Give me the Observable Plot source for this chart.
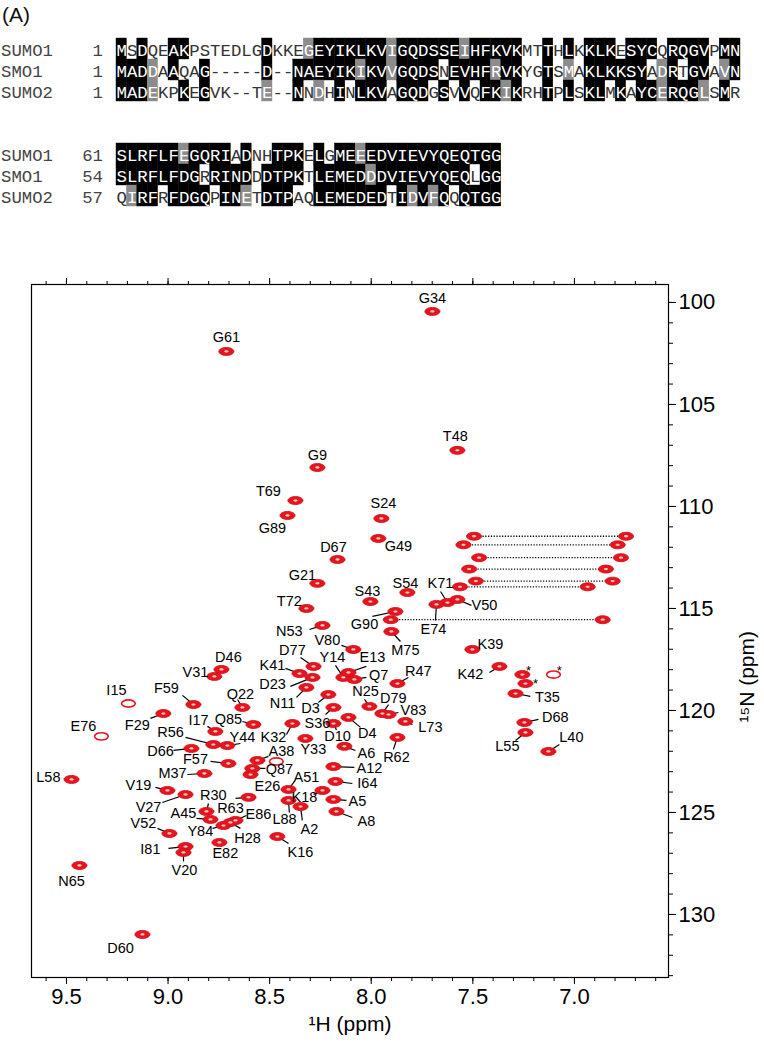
<!DOCTYPE html>
<html><head><meta charset="utf-8">
<script src="https://cdn.jsdelivr.net/npm/d3@7"></script>
<script src="https://cdn.jsdelivr.net/npm/@observablehq/plot@0.6"></script>
<style>
body{margin:0;background:#fff;}
#wrap{position:relative;width:764px;height:1046px;font-family:"Liberation Sans",Arial,sans-serif;}
.tag{position:absolute;left:2px;font-size:21px;line-height:24px;color:#111;}
#pa{position:absolute;left:0;top:0;}
#pb{position:absolute;left:0;top:215px;}
</style></head>
<body><div id="wrap"><div class="tag" style="top:3px">(A)</div><div class="tag" style="top:228px">(B)</div><div id="pa"></div><div id="pb"></div></div>
<script>
// ---------- Panel A: alignment data ----------
const seqNames = ["SUMO1", "SMO1", "SUMO2"];
const block1Start = [1, 1, 1];
const block2Start = [61, 54, 57];
const block1Seq = [
  "MSDQEAKPSTEDLGDKKEGEYIKLKVIGQDSSEIHFKVKMTTHLKKLKESYCQRQGVPMN",
  "MADDAAQAG-----D--NAEYIKIKVVGQDSNEVHFRVKYGTSMAKLKKSYADRTGVAVN",
  "MADEKPKEGVK--TE--NNDHINLKVAGQDGSVVQFKIKRHTPLSKLMKAYCERQGLSMR"
];
const block1Shade = [
  "bwbwwbbwwwwwwwbwwwgbbbbbbbgbbbbbbgbbbbbwwbwbwbbbwbbbwbbbbwbb",
  "bbbgwbwwbwwwwwbwwbbbbbbgbbgbbbbwbbbbgbbwwbwgwbbbbbbwgbwbbwgb",
  "bbbgwwbwbwwwwwgwwbwgwbwbbbwbbbwbwbwbbgbwwbwbwbbwbwbbgbbbgwbw"
];
const block2Seq = [
  "SLRFLFEGQRIADNHTPKELGMEEEDVIEVYQEQTGG",
  "SLRFLFDGRRINDDDTPKTLEMEDDDVIEVYQEQLGG",
  "QIRFRFDGQPINETDTPAQLEMEDEDTIDVFQQQTGG"
];
const block2Shade = [
  "bbbbbbgbbbbwbwwbbbwbwbbgbbbbbbbbbbbbb",
  "bbbbbbbbwbbbbwbbbbwbbbbbgbbbbbbbbbwbb",
  "wgbbwbbbbwbbgwbbbwwbbbbbbbwbgbgbwbbbb"
];

// ---------- Panel B: HSQC peak data ----------
const residues = ["G34","G61","T48","G9","T69","G89","S24","G49","D67","G21","S43","S54","T72","N53","G90","M75","K71","E74","V50","V80","D77","K41","D23","N11","Y14","E13","Q7","R47","N25","D79","V83","L73","D3","S36","D10","D4","D46","V31","I15","F59","F29","Q22","E76","Q85","I17","R56","Y44","D66","F57","M37","A38","Q87","E26","K32","L58","V19","V27","R30","R63","A45","E86","Y84","H28","V52","E82","I81","V20","N65","D60","K39","K42","T35","D68","L55","L40","R62","Y33","A6","A12","I64","A51","K18","A5","A2","L88","A8","K16"];
const hShift = [7.699,8.713,7.576,8.265,8.373,8.412,7.950,7.965,8.166,8.265,8.004,7.822,8.319,8.240,7.881,7.901,7.625,7.679,7.576,8.088,8.284,8.353,8.289,8.319,8.137,8.112,8.083,7.871,8.009,7.945,7.915,7.832,8.211,8.186,8.186,8.112,8.737,8.772,9.195,8.875,9.023,8.634,9.328,8.580,8.767,8.777,8.708,8.885,8.703,8.821,8.560,8.585,8.594,8.388,9.475,9.003,8.914,8.811,8.604,8.791,8.668,8.727,8.693,8.993,8.747,8.914,8.924,9.436,9.126,7.502,7.369,7.290,7.246,7.241,7.128,7.871,8.324,8.132,8.186,8.176,8.407,8.240,8.186,8.348,8.407,8.171,8.462];
const nShift = [100.44,102.40,107.25,108.09,109.71,110.44,110.59,111.57,112.60,113.77,114.66,114.22,115.00,115.83,115.15,116.13,114.71,114.80,114.56,117.01,117.84,118.19,118.38,118.87,118.38,118.14,118.48,118.68,119.80,120.15,120.20,120.54,119.22,119.85,120.64,120.34,117.99,118.33,119.66,119.71,120.15,119.85,121.27,120.69,121.03,121.67,121.72,121.86,122.60,123.09,122.45,122.84,123.14,120.64,123.38,123.92,124.12,124.95,124.26,125.34,125.39,125.64,125.49,126.03,126.47,126.67,126.96,127.60,130.98,117.01,117.84,119.17,120.59,121.08,122.01,121.32,121.37,121.76,122.75,123.48,123.87,123.92,124.36,124.71,124.41,124.95,126.18];
const labelH = [7.699,8.713,7.586,8.265,8.506,8.486,7.940,7.866,8.186,8.339,8.019,7.832,8.403,8.403,8.033,7.832,7.659,7.694,7.443,8.216,8.388,8.486,8.486,8.437,8.191,7.994,7.964,7.768,8.028,7.891,7.792,7.709,8.299,8.265,8.166,8.019,8.703,8.865,9.254,9.008,9.151,8.644,9.416,8.703,8.850,8.988,8.634,9.037,8.865,8.978,8.442,8.452,8.511,8.481,9.589,9.146,9.096,8.777,8.693,8.924,8.555,8.841,8.609,9.121,8.718,9.087,8.919,9.475,9.234,7.413,7.512,7.133,7.094,7.330,7.015,7.876,8.285,8.024,8.009,8.019,8.319,8.329,8.068,8.304,8.427,8.024,8.348];
const labelN = [99.80,101.72,106.57,107.50,109.26,111.08,109.85,111.96,112.01,113.38,114.17,113.77,114.66,116.13,115.78,117.06,113.77,116.03,114.85,116.57,117.06,117.79,118.73,119.66,117.40,117.42,118.30,118.09,119.07,119.41,120.00,120.83,119.90,120.64,121.27,121.13,117.40,118.14,119.02,118.92,120.74,119.22,120.78,120.44,120.49,121.08,121.32,122.01,122.40,123.09,122.01,122.89,123.73,121.32,123.28,123.68,124.75,124.17,124.80,125.05,125.10,125.93,126.27,125.54,127.01,126.81,127.84,128.38,131.67,116.76,118.24,119.36,120.34,121.76,121.32,122.30,121.93,122.11,122.84,123.58,123.28,124.26,124.46,125.84,125.34,125.44,126.96];
const leadH = [null,null,null,null,null,null,null,null,null,null,null,null,null,8.304,7.994,7.856,7.659,7.684,7.507,8.147,8.348,8.422,8.398,8.368,8.176,8.024,8.024,7.817,8.033,7.915,7.866,7.797,8.260,8.225,8.171,8.053,null,null,null,8.929,9.087,8.658,null,8.634,8.806,8.914,8.644,8.973,8.791,8.905,8.506,8.521,8.575,8.417,null,9.062,9.028,8.801,8.668,8.860,8.614,8.781,8.644,9.052,8.737,8.998,8.924,null,null,null,7.418,7.217,7.177,7.290,7.074,7.891,null,8.078,8.083,8.093,8.378,8.284,8.122,8.339,8.403,8.093,8.407];
const leadN = [null,null,null,null,null,null,null,null,null,null,null,null,null,116.03,115.39,116.62,114.17,115.59,114.85,116.81,117.40,117.94,118.82,119.36,117.79,117.84,118.38,118.38,119.46,119.71,120.10,120.69,119.61,120.20,120.96,120.83,null,null,null,119.26,120.39,119.46,null,120.54,120.78,121.32,121.62,121.96,122.50,123.14,122.25,122.84,123.33,121.18,null,123.77,124.51,124.56,124.31,125.29,125.15,125.78,125.78,125.78,126.67,126.76,127.40,null,null,null,118.14,119.31,120.44,121.47,121.67,121.91,null,121.96,122.79,123.58,123.48,124.12,124.41,125.39,125.00,125.25,126.52];
const openPeaks = ["I15", "E76"];

// side-chain NH2 pairs joined by dotted lines
const nh2N = [111.46, 111.88, 112.51, 113.07, 113.66, 113.94, 115.55];
const nh2LeftH = [7.494, 7.546, 7.469, 7.518, 7.485, 7.563, 7.904];
const nh2RightH = [6.746, 6.787, 6.771, 6.845, 6.812, 6.935, 6.861];

// starred (unassigned) peaks
const starH = [7.256, 7.103, 7.241];
const starN = [118.24, 118.24, 118.68];
const starLabelH = [7.226, 7.074, 7.192];
const starLabelN = [118.04, 118.04, 118.68];
const starOpen = [false, true, false];

// unlabelled weak peak
const extraH = [8.467];
const extraN = [122.50];

// axis ticks and titles
const xMajor = [9.5, 9.0, 8.5, 8.0, 7.5, 7.0];
const xMinor = d3.range(66, 97).map(v => v / 10);
const yMajor = [100, 105, 110, 115, 120, 125, 130];
const yMinor = d3.range(100, 134);
const xTitle = "¹H (ppm)";
const yTitle = "¹⁵N (ppm)";

// ---------- build panel A ----------
const cells = [];
const rowsMeta = [];
[[block1Seq, block1Shade, block1Start, 0], [block2Seq, block2Shade, block2Start, 5]].forEach(([seqs, shades, starts, off]) => {
  seqs.forEach((s, r) => {
    rowsMeta.push({name: seqNames[r], start: String(starts[r]), line: off + r});
    for (let i = 0; i < s.length; i++) cells.push({col: i, line: off + r, ch: s[i], shade: s[i] === "-" ? "w" : shades[r][i]});
  });
});
const mono = "'Liberation Mono','Courier New',monospace";
const panelA = Plot.plot({
  width: 764, height: 215, margin: 0,
  x: {type: "linear", domain: [0, 60], range: [116, 740], axis: null},
  y: {type: "linear", domain: [0, 10], range: [38, 248], axis: null},
  marks: [
    Plot.rect(cells.filter(d => d.shade !== "w"), {x1: "col", x2: d => d.col + 1, y1: "line", y2: d => d.line + 1,
      fill: d => d.shade === "b" ? "#000000" : "#8c8c8c", stroke: d => d.shade === "b" ? "#000000" : "#8c8c8c", strokeWidth: 0.4}),
    Plot.text(cells, {x: d => d.col + 0.5, y: d => d.line + 0.55, text: "ch", fill: d => d.shade === "w" ? "#333333" : "#ffffff",
      fontFamily: mono, fontSize: 17.3}),
    Plot.text(rowsMeta, {x: -11.1, y: d => d.line + 0.55, text: "name", textAnchor: "start", fill: "#444", fontFamily: mono, fontSize: 17.3}),
    Plot.text(rowsMeta, {x: -1.3, y: d => d.line + 0.55, text: "start", textAnchor: "end", fill: "#444", fontFamily: mono, fontSize: 17.3})
  ]
});
document.getElementById("pa").appendChild(panelA);

// ---------- build panel B ----------
const peaks = residues.map((name, i) => ({name, h: hShift[i], n: nShift[i], lh: labelH[i], ln: labelN[i], ah: leadH[i], an: leadN[i], open: openPeaks.includes(name)}));
const nh2 = nh2N.map((n, i) => ({n, l: nh2LeftH[i], r: nh2RightH[i]}));
const nh2Pts = nh2.flatMap(d => [{h: d.l, n: d.n}, {h: d.r, n: d.n}]);
const stars = starH.map((h, i) => ({h, n: starN[i], lh: starLabelH[i], ln: starLabelN[i], open: starOpen[i]}));
const extras = extraH.map((h, i) => ({h, n: extraN[i], open: true}));

const allPts = [
  ...peaks.map(d => ({h: d.h, n: d.n, open: d.open})),
  ...nh2Pts.map(d => ({...d, open: false})),
  ...stars.map(d => ({h: d.h, n: d.n, open: d.open})),
  ...extras
];
const filled = allPts.filter(d => !d.open);
const opened = allPts.filter(d => d.open);

const ellipse = {
  draw(ctx, size) {
    const r = Math.sqrt(size / Math.PI), rx = 1.8 * r, ry = 0.95 * r, k = 0.5523;
    ctx.moveTo(rx, 0);
    ctx.bezierCurveTo(rx, ry * k, rx * k, ry, 0, ry);
    ctx.bezierCurveTo(-rx * k, ry, -rx, ry * k, -rx, 0);
    ctx.bezierCurveTo(-rx, -ry * k, -rx * k, -ry, 0, -ry);
    ctx.bezierCurveTo(rx * k, -ry, rx, -ry * k, rx, 0);
    ctx.closePath();
  }
};
const red = "#e6151d";
const blank = () => "";
const panelB = Plot.plot({
  width: 764, height: 831,
  marginTop: 69, marginBottom: 69, marginLeft: 31, marginRight: 96,
  x: {domain: [9.672, 6.537], label: null},
  y: {domain: [133.09, 99.12], label: null},
  style: {fontFamily: "'Liberation Sans',Arial,sans-serif", fontSize: "22px", color: "#000", background: "#fff"},
  marks: [
    Plot.link(nh2, {x1: "l", x2: "r", y1: "n", y2: "n", stroke: "#000", strokeWidth: 1.3, strokeDasharray: "1.2,1.6"}),
    Plot.link(peaks.filter(d => d.ah != null), {x1: "ah", y1: "an", x2: "h", y2: "n", stroke: "#000", strokeWidth: 1.2}),
    Plot.dot(filled, {x: "h", y: "n", r: 4.2, symbol: ellipse, fill: red, stroke: "#c8101a", strokeWidth: 0.8}),
    Plot.dot(filled, {x: "h", y: "n", r: 1.2, symbol: ellipse, fill: "#ffffff", fillOpacity: 0.75}),
    Plot.dot(opened, {x: "h", y: "n", r: 3.8, symbol: ellipse, fill: "none", stroke: red, strokeWidth: 1.6}),
    Plot.text(peaks, {x: "lh", y: "ln", text: "name", fontSize: 14.5, fill: "#000"}),
    Plot.text(stars, {x: "lh", y: "ln", text: () => "*", fontSize: 13, fill: "#000"}),
    Plot.frame({stroke: "#000", strokeWidth: 1.2}),
    Plot.axisX({ticks: xMajor, anchor: "bottom", tickSize: 7, tickPadding: 4, tickFormat: d => d.toFixed(1), label: null}),
    Plot.axisX({ticks: xMinor, anchor: "bottom", tickSize: 4, tickFormat: blank, label: null}),
    Plot.axisX({ticks: xMajor, anchor: "top", tickSize: 7, tickFormat: blank, label: null}),
    Plot.axisX({ticks: xMinor, anchor: "top", tickSize: 4, tickFormat: blank, label: null}),
    Plot.axisY({ticks: yMajor, anchor: "right", tickSize: 7, tickPadding: 3, tickFormat: d => String(d), label: null}),
    Plot.axisY({ticks: yMinor, anchor: "right", tickSize: 4, tickFormat: blank, label: null}),
    Plot.text([xTitle], {frameAnchor: "bottom", dy: 53, text: d => d, fontSize: 21}),
    Plot.text([yTitle], {frameAnchor: "right", dx: 79, rotate: -90, text: d => d, fontSize: 21})
  ]
});
document.getElementById("pb").appendChild(panelB);
</script>
</body></html>
